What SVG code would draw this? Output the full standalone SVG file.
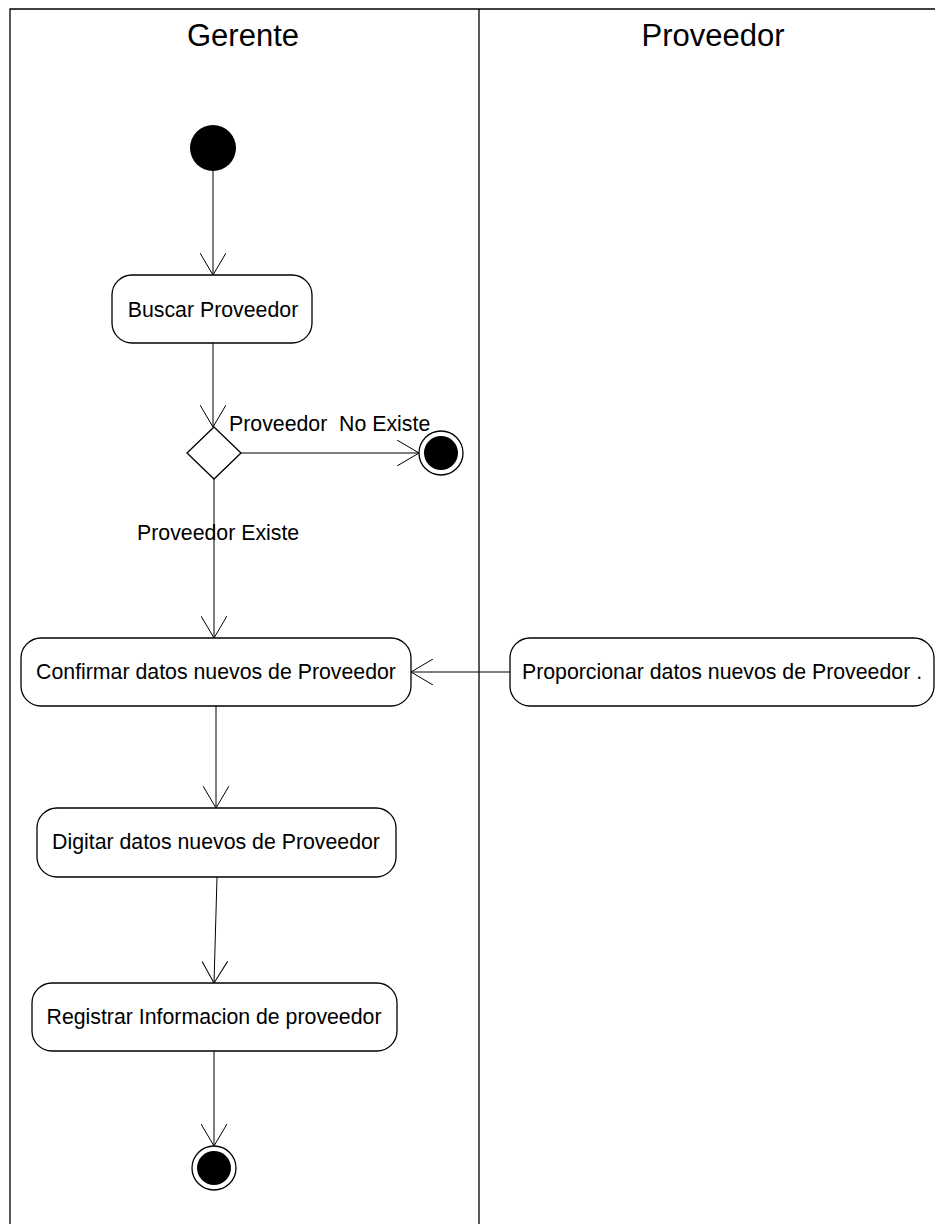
<svg xmlns="http://www.w3.org/2000/svg" width="935" height="1224" viewBox="0 0 935 1224">
<defs>
<marker id="open" viewBox="0 0 24 26" refX="22" refY="13" markerWidth="24" markerHeight="26" markerUnits="userSpaceOnUse" orient="auto">
<path d="M0,0 L22,13 L0,26" fill="none" stroke="#000" stroke-width="1"/>
</marker>
<style>
.t{font-family:"Liberation Sans",Arial,sans-serif;fill:#000}
.n{font-size:21.3px;text-anchor:middle}
.h{font-size:31px;text-anchor:middle}
.box{fill:#fff;stroke:#000;stroke-width:1.3}
.c{fill:none;stroke:#000;stroke-width:1;marker-end:url(#open)}
</style>
</defs>
<rect width="935" height="1224" fill="#fff"/>
<g id="lanes" fill="none" stroke="#000" stroke-width="1.3">
<path d="M10,1224 V9 H940"/>
<path d="M479,9 V1224"/>
</g>
<text class="t h" x="243" y="46">Gerente</text>
<text class="t h" x="713" y="46">Proveedor</text>
<g id="connectors">
<line class="c" x1="213" y1="170" x2="213" y2="275"/>
<line class="c" x1="213" y1="343" x2="213" y2="427"/>
<line class="c" x1="241" y1="453" x2="419" y2="453"/>
<line class="c" x1="214" y1="479" x2="214" y2="638"/>
<line class="c" x1="510" y1="672" x2="411" y2="672"/>
<line class="c" x1="216" y1="706" x2="216" y2="808"/>
<line class="c" x1="217" y1="877" x2="214" y2="983"/>
<line class="c" x1="214" y1="1051" x2="214" y2="1146"/>
<text class="t" x="229" y="431" font-size="21.3" xml:space="preserve">Proveedor  No Existe</text>
<text class="t" x="137" y="540" font-size="21.3">Proveedor Existe</text>
</g>
<g id="start"><circle cx="213" cy="148" r="23" fill="#000"/></g>
<g id="buscar"><rect class="box" x="112" y="275" width="200" height="68" rx="20"/><text class="t n" x="213" y="317">Buscar Proveedor</text></g>
<g id="decision"><polygon points="214,427 241,453 214,479 187,453" fill="#fff" stroke="#000" stroke-width="1.3"/></g>
<g id="end1"><circle cx="441" cy="453" r="22" fill="#fff" stroke="#000" stroke-width="1.3"/><circle cx="441" cy="453" r="17" fill="#000"/></g>
<g id="confirmar"><rect class="box" x="21" y="638" width="390" height="68" rx="20"/><text class="t n" x="216" y="679">Confirmar datos nuevos de Proveedor</text></g>
<g id="proporcionar"><rect class="box" x="510" y="638" width="424" height="68" rx="20"/><text class="t n" x="722" y="679">Proporcionar datos nuevos de Proveedor .</text></g>
<g id="digitar"><rect class="box" x="37" y="808" width="359" height="69" rx="20"/><text class="t n" x="216" y="849">Digitar datos nuevos de Proveedor</text></g>
<g id="registrar"><rect class="box" x="32" y="983" width="365" height="68" rx="20"/><text class="t n" x="214" y="1024">Registrar Informacion de proveedor</text></g>
<g id="end2"><circle cx="214" cy="1168" r="22" fill="#fff" stroke="#000" stroke-width="1.3"/><circle cx="214" cy="1168" r="17" fill="#000"/></g>
</svg>
